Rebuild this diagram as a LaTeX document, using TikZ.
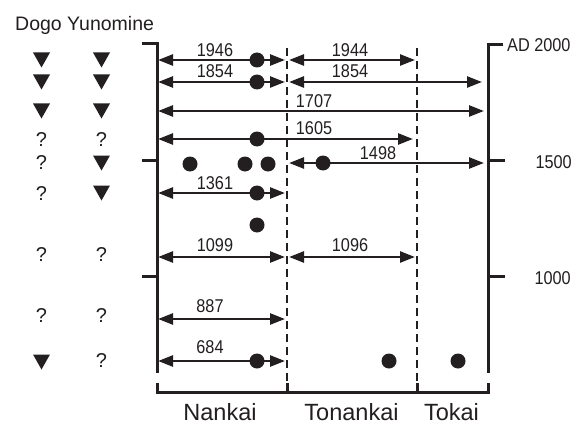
\documentclass[tikz,border=0pt]{standalone}
\usepackage{fontspec}
\setmainfont{Liberation Sans}
\newfontfamily\numf[FakeStretch=0.88]{Liberation Sans}
\usetikzlibrary{arrows.meta}
\definecolor{ink}{HTML}{231F20}
\tikzset{
  arr/.style={draw=ink, line width=2.5pt,
    {Triangle[length=15pt,width=11pt]}-{Triangle[length=15pt,width=11pt]}},
  axis/.style={draw=ink, line width=3pt},
  dsh/.style={draw=ink, line width=2.7pt, dash pattern=on 8pt off 5pt},
  dot/.style={circle, fill=ink, inner sep=0pt, minimum size=15pt},
  yr/.style={inner sep=0pt, text=ink, font=\numf\fontsize{18.5}{20}\selectfont},
  qm/.style={inner sep=0pt, text=ink, font=\fontsize{20}{22}\selectfont},
  reg/.style={inner sep=0pt, anchor=base, text=ink, font=\fontsize{23.5}{25}\selectfont},
  tri/.pic={\fill[ink] (-8.5,-7.5) -- (8.5,-7.5) -- (0,7.5) -- cycle;}
}
\begin{document}
\begin{tikzpicture}[x=1pt, y=-1pt]
\useasboundingbox (0,0) rectangle (580,425);
\fill[white] (0,0) rectangle (580,425);

% title
\node[inner sep=0pt, anchor=base west, text=ink, font=\fontsize{19.5}{22}\selectfont] (title) at (15,31) {Dogo Yunomine};

% axes
\draw[axis] (142,44) -- (157,44) -- (157,373);
\draw[axis] (142,160) -- (157,160);
\draw[axis] (142,276) -- (157,276);
\draw[axis] (503,45) -- (488,45) -- (488,373);
\draw[axis] (488,160) -- (505,160);
\draw[axis] (488,276) -- (505,276);
% bottom bracket
\draw[axis] (157,383) -- (157,392) -- (488,392) -- (488,383);
\draw[axis] (287,383) -- (287,392);
\draw[axis] (417,383) -- (417,392);
% dashed boundaries
\draw[dsh] (287,48) -- (287,383);
\draw[dsh] (417,48) -- (417,383);

% axis labels
\node[yr, anchor=west] (ad) at (507,45) {AD 2000};
\node[yr, anchor=east] (l1500) at (572,162) {1500};
\node[yr, anchor=east] (l1000) at (571,278) {1000};

% arrows
\draw[arr] (158,60) -- (285,60);
\draw[arr] (289,60) -- (415,60);
\draw[arr] (158,82) -- (285,82);
\draw[arr] (289,82) -- (482,82);
\draw[arr] (158,111) -- (484,111);
\draw[arr] (158,139) -- (413,139);
\draw[arr] (289,163) -- (484,163);
\draw[arr] (158,193) -- (285,193);
\draw[arr] (158,257) -- (285,257);
\draw[arr] (289,257) -- (415,257);
\draw[arr] (158,319) -- (285,319);
\draw[arr] (158,361) -- (285,361);

% dots
\node[dot] (d1946) at (257,60) {};
\node[dot] (d1854) at (257,82) {};
\node[dot] (d1605) at (257,139) {};
\node[dot] (da) at (190,164) {};
\node[dot] (db) at (245,164) {};
\node[dot] (dc) at (268,164) {};
\node[dot] (d1498) at (323,163) {};
\node[dot] (d1361) at (257,193) {};
\node[dot] (dx) at (257,225) {};
\node[dot] (d684) at (257,361) {};
\node[dot] (d684t) at (389,361) {};
\node[dot] (d684k) at (458,361) {};

% year labels
\node[yr] (t1946) at (215,50) {1946};
\node[yr] (t1944) at (350,50) {1944};
\node[yr] (t1854a) at (215,71.5) {1854};
\node[yr] (t1854b) at (350,71.5) {1854};
\node[yr] (t1707) at (314,101.5) {1707};
\node[yr] (t1605) at (314,128.5) {1605};
\node[yr] (t1498) at (378,153) {1498};
\node[yr] (t1361) at (215,183.5) {1361};
\node[yr] (t1099) at (215,245) {1099};
\node[yr] (t1096) at (350,245) {1096};
\node[yr] (t887) at (210,306.5) {887};
\node[yr] (t684) at (210,347) {684};

% left columns
\pic at (41.5,60) {tri};   \pic at (101.5,60) {tri};
\pic at (41.5,82) {tri};   \pic at (101.5,82) {tri};
\pic at (41.5,111) {tri};  \pic at (101.5,111) {tri};
\node[qm] (q1) at (41.5,139.5) {?}; \node[qm] (q2) at (101.5,139.5) {?};
\node[qm] (q3) at (41.5,163) {?};   \pic at (101.5,163) {tri};
\node[qm] (q4) at (41.5,194) {?};   \pic at (101.5,193) {tri};
\node[qm] (q5) at (41.5,255) {?};   \node[qm] (q6) at (101.5,255) {?};
\node[qm] (q7) at (41.5,316) {?};   \node[qm] (q8) at (101.5,316) {?};
\pic at (41.5,362) {tri};           \node[qm] (q9) at (101.5,361) {?};

% region labels
\node[reg] (nankai) at (220,420) {Nankai};
\node[reg] (tonankai) at (351.5,420) {Tonankai};
\node[reg] (tokai) at (451.5,420) {Tokai};
\end{tikzpicture}
\end{document}
